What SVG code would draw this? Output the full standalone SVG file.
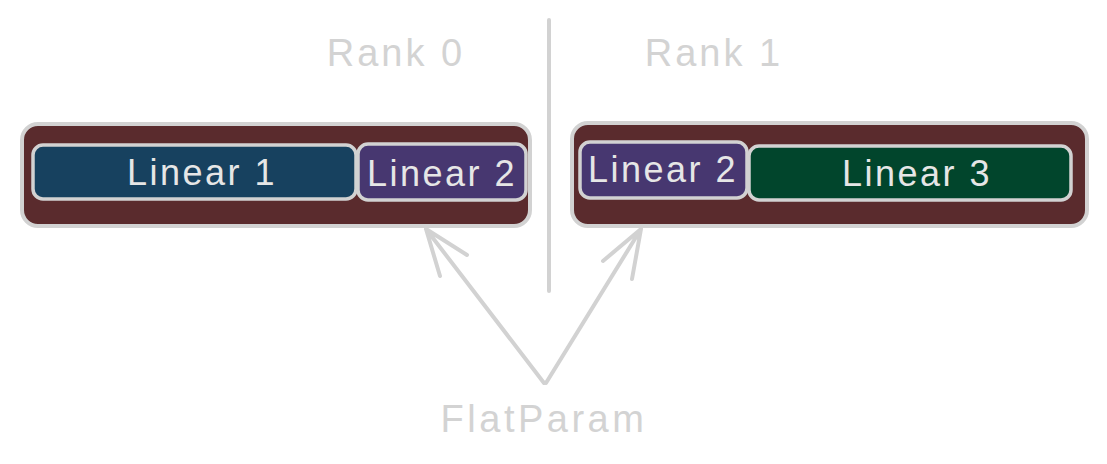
<svg xmlns="http://www.w3.org/2000/svg" width="1107" height="464" viewBox="0 0 1107 464">
<defs>
<style>
.outer{fill:#5a2b2d;stroke:#d2d2d2;stroke-width:4}
.inner{stroke:#d2d2d2;stroke-width:3.5}
.lbl{font-family:"Liberation Sans",Arial,sans-serif;font-size:36px;letter-spacing:2.5px;fill:#e6e6e6;text-anchor:middle}
.title{font-family:"Liberation Sans",Arial,sans-serif;font-size:38px;letter-spacing:3px;fill:#d3d3d3;text-anchor:middle}
.conn{stroke:#d2d2d2;stroke-width:4;fill:none;stroke-linecap:round;stroke-linejoin:round}
</style>
</defs>
<rect width="1107" height="464" fill="#ffffff"/>
<g id="rank0-label"><text class="title" x="396" y="66">Rank 0</text></g>
<g id="rank1-label"><text class="title" x="714" y="66">Rank 1</text></g>
<g id="rank0">
<rect class="outer" x="22" y="124" width="508" height="102" rx="16"/>
</g>
<g id="r0-linear1">
<rect class="inner" x="33" y="145" width="323" height="54" rx="10" fill="#17415f"/>
<text class="lbl" x="202" y="185">Linear 1</text>
</g>
<g id="r0-linear2">
<rect class="inner" x="358" y="144" width="168" height="56" rx="10" fill="#473770"/>
<text class="lbl" x="442" y="186">Linear 2</text>
</g>
<g id="rank1">
<rect class="outer" x="572" y="123" width="515" height="103" rx="16"/>
</g>
<g id="r1-linear2">
<rect class="inner" x="580" y="142" width="167" height="56" rx="10" fill="#473770"/>
<text class="lbl" x="663" y="182">Linear 2</text>
</g>
<g id="r1-linear3">
<rect class="inner" x="749" y="146" width="322" height="54" rx="10" fill="#01452c"/>
<text class="lbl" x="917" y="186">Linear 3</text>
</g>
<g id="flatparam"><text class="title" x="544" y="432" style="letter-spacing:3.5px">FlatParam</text></g>
<g id="connectors">
<path class="conn" d="M549 20 L549 291"/>
<path class="conn" d="M544 383 L426 229 M426 229 L440 276 M426 229 L467 255"/>
<path class="conn" d="M546 383 L641 229 M641 229 L632 279 M641 229 L603 261"/>
</g>
</svg>
